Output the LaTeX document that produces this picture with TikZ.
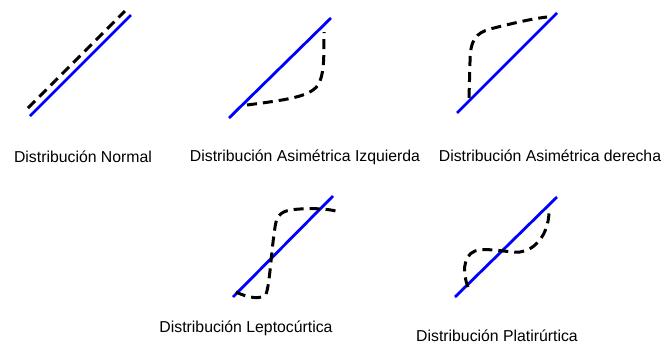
\documentclass[tikz,border=0pt]{standalone}
\usepackage{fontspec}
\setmainfont{Liberation Sans}
\usepackage{xcolor}

\begin{document}
\begin{tikzpicture}[x=1pt, y=-1pt,
    recta/.style={line width=2.8pt, blue},
    curva/.style={line width=3pt, black, dash pattern=on 10pt off 6pt},
    etiqueta/.style={anchor=base, inner sep=0pt, font=\fontsize{15.8}{18}\selectfont}]
      \useasboundingbox (0,0) rectangle (662,343);

      % diagonales de referencia
      \foreach \n/\xa/\ya/\xb/\yb in {normal/30/116/131/15, izq/229/118/331/18,
          der/457/113/557/13, lepto/233/297/333/196, plati/455/297/557/197} {
        \coordinate (\n-a) at (\xa,\ya);
        \coordinate (\n-b) at (\xb,\yb);
        \draw[recta] (\n-a) -- (\n-b);
      }

      % curvas discontinuas
      \draw[curva] (28,108) -- (125,11);
      \draw[curva] (247,105) .. controls (285,100) and (310,97) .. (318,85)
        .. controls (324,75) and (324,60) .. (324,32);
      \draw[curva] (469,98) -- (470,62) .. controls (470,40) and (476,33) .. (490,29)
        .. controls (510,24) and (530,19) .. (547,17);
      \draw[curva] (236,292) .. controls (248,298) and (262,300) .. (266,294)
        .. controls (270,285) and (272,240) .. (276,222)
        .. controls (279,212) and (285,210) .. (300,209)
        .. controls (315,208) and (330,209) .. (340,212);
      \draw[curva] (468,287) .. controls (463,275) and (462,256) .. (475,251)
        .. controls (485,247) and (510,253) .. (520,252)
        .. controls (535,250) and (548,235) .. (549,213);

      % rotulos
      \node[etiqueta] (t-normal) at (83,162) {Distribución Normal};
      \node[etiqueta] (t-izq) at (305,161) {Distribución Asimétrica Izquierda};
      \node[etiqueta] (t-der) at (550,161) {Distribución Asimétrica derecha};
      \node[etiqueta] (t-lepto) at (246,332) {Distribución Leptocúrtica};
      \node[etiqueta] (t-plati) at (497,341) {Distribución Platirúrtica};
\end{tikzpicture}
\end{document}
